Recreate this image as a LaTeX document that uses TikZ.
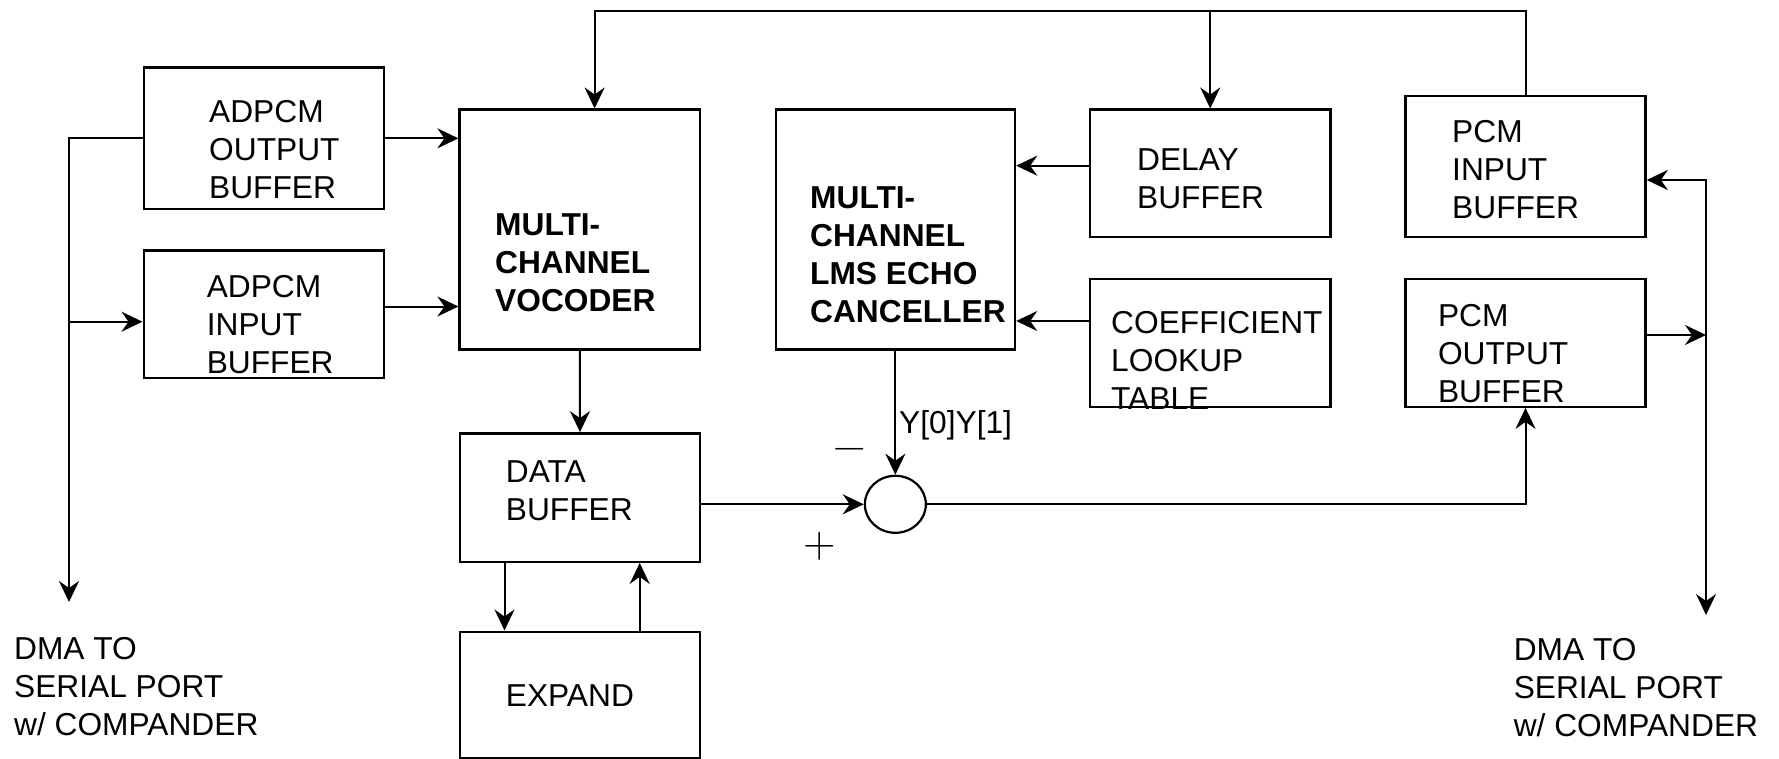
\documentclass[tikz,border=0pt]{standalone}
\usepackage{fontspec}
\setsansfont{Liberation Sans}
\usetikzlibrary{arrows.meta,shapes.geometric}
\begin{document}
\begin{tikzpicture}[x=1pt,y=-1pt,
  box/.style={draw,line width=2.4pt,inner sep=0pt},
  lbl/.style={font=\sffamily\fontsize{31.7}{38}\selectfont,align=left,inner sep=0pt,anchor=west},
  blbl/.style={lbl,font=\sffamily\bfseries\fontsize{31.7}{38}\selectfont},
  sign/.style={font=\rmfamily\fontsize{45}{45}\selectfont,inner sep=0pt},
  conn/.style={line width=2pt,-{Stealth[length=21pt,width=20pt,inset=7pt]}},
  both/.style={line width=2pt,{Stealth[length=21pt,width=20pt,inset=7pt]}-{Stealth[length=21pt,width=20pt,inset=7pt]}}
]
\useasboundingbox (0,0) rectangle (1779,759);

% boxes
\node[box,minimum width=240.3pt,minimum height=141.3pt] (adpcmout) at (263.85,138.35) {};
\node[box,minimum width=240.3pt,minimum height=127pt] (adpcmin) at (263.85,314.2) {};
\node[box,minimum width=240.4pt,minimum height=239.6pt] (vocoder) at (579.8,229.5) {};
\node[box,minimum width=239.3pt,minimum height=239.6pt] (echo) at (895.35,229.5) {};
\node[box,minimum width=240.4pt,minimum height=127.3pt] (delay) at (1210.2,173.35) {};
\node[box,minimum width=240.4pt,minimum height=127.7pt] (coeff) at (1210.2,342.85) {};
\node[box,minimum width=240.2pt,minimum height=140.7pt] (pcmin) at (1525.5,166.65) {};
\node[box,minimum width=240.2pt,minimum height=127.7pt] (pcmout) at (1525.5,342.85) {};
\node[box,minimum width=240pt,minimum height=128.4pt] (data) at (580,497.5) {};
\node[box,minimum width=240pt,minimum height=126.3pt] (expand) at (580,694.85) {};
\node[draw,ellipse,line width=2.2pt,minimum width=61pt,minimum height=57pt,inner sep=0pt] (sum) at (895.35,504.3) {};

% texts
\node[lbl] (t-adpcmout) at (209,149.7) {ADPCM\\OUTPUT\\BUFFER};
\node[lbl] (t-adpcmin) at (206.6,325) {ADPCM\\INPUT\\BUFFER};
\node[blbl] (t-vocoder) at (495,262.7) {MULTI-\\CHANNEL\\VOCODER};
\node[blbl] (t-echo) at (810,254.6) {MULTI-\\CHANNEL\\LMS ECHO\\CANCELLER};
\node[lbl] (t-delay) at (1137,179) {DELAY\\BUFFER};
\node[lbl] (t-pcmin) at (1452,170) {PCM\\INPUT\\BUFFER};
\node[lbl] (t-coeff) at (1111,360) {COEFFICIENT\\LOOKUP\\TABLE};
\node[lbl] (t-pcmout) at (1437.8,353.2) {PCM\\OUTPUT\\BUFFER};
\node[lbl] (t-data) at (505.7,490.3) {DATA\\BUFFER};
\node[lbl] (t-expand) at (505.7,696) {EXPAND};
\node[lbl] (dmaL) at (14,686.5) {DMA TO\\SERIAL PORT\\w/ COMPANDER};
\node[lbl] (dmaR) at (1513.6,687.3) {DMA TO\\SERIAL PORT\\w/ COMPANDER};
\node[lbl,anchor=base west] (ylabel) at (899,433.3) {Y[0]Y[1]};
\node[sign] (minus) at (849.5,454.7) {−};
\node[sign] (plus) at (820,546.7) {+};

% coordinates
\coordinate (top) at (0,11);
\coordinate (dmaLend) at (69,602);
\coordinate (dmaRend) at (1706,615);
\coordinate (vocin) at ([xshift=14.8pt]vocoder.north);

% connectors
\draw[conn] (pcmin.north) |- (vocin |- top) -- (vocin);
\draw[conn] (delay.north |- top) -- (delay.north);
\draw[conn] (adpcmout.east) -- (vocoder.west |- adpcmout.east);
\draw[conn] (adpcmin.east |- 0,306.5) -- (vocoder.west |- 0,306.5);
\draw[conn] (adpcmout.west) -| (dmaLend);
\draw[conn] (dmaLend |- 0,321.7) -- (adpcmin.west |- 0,321.7);
\draw[conn] (vocoder.south) -- (data.north);
\draw[conn] ([xshift=-75.5pt]data.south) -- ([xshift=-75.5pt]expand.north);
\draw[conn] ([xshift=59.7pt]expand.north) -- ([xshift=59.7pt]data.south);
\draw[conn] (data.east |- sum.west) -- (sum.west);
\draw[conn] (echo.south) -- (sum.north);
\draw[conn] (sum.east) -| (pcmout.south);
\draw[conn] (delay.west |- 0,165.7) -- (echo.east |- 0,165.7);
\draw[conn] (coeff.west |- 0,321) -- (echo.east |- 0,321);
\draw[conn] (pcmout.east |- 0,335) -- (dmaRend |- 0,335);
\draw[both] (pcmin.east |- 0,180) -| (dmaRend);
\end{tikzpicture}
\end{document}
